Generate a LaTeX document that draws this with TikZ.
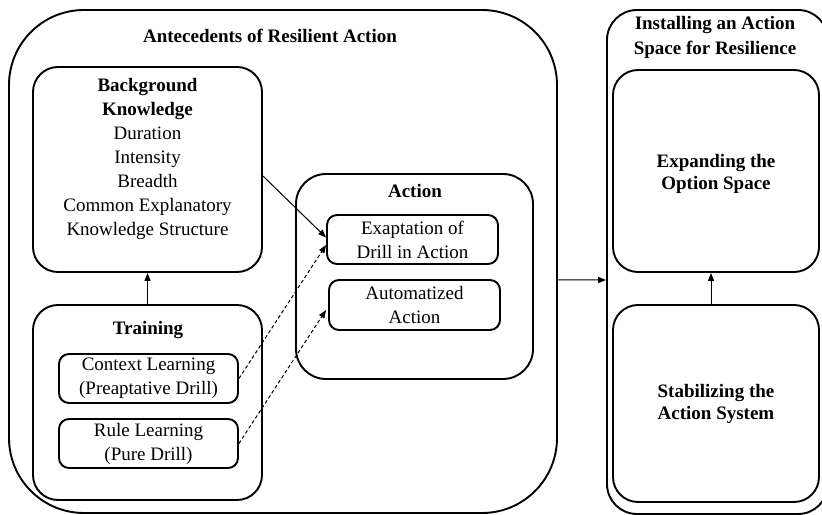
\documentclass[tikz,border=0pt]{standalone}
\usepackage{fontspec}
\setmainfont{Liberation Serif}
\usetikzlibrary{arrows.meta,calc}
\begin{document}
\begin{tikzpicture}[x=1bp,y=-1bp,
  box/.style={draw,line width=1.9bp,inner sep=0pt},
  txt/.style={align=center,inner sep=0pt,font=\fontsize{19bp}{24bp}\selectfont},
  btxt/.style={txt,font=\fontsize{19bp}{24bp}\selectfont\bfseries},
  arr/.style={line width=1bp,-{Triangle[length=8bp,width=6bp]}},
  darr/.style={arr,dash pattern=on 3.5bp off 2.5bp}]
\useasboundingbox (0,0) rectangle (822,515);
\clip (0,0) rectangle (822,515);
% outer containers
\node[box,minimum width=548bp,minimum height=503bp,rounded corners=75bp] (A) at (283,261.5) {};
\node[box,minimum width=221bp,minimum height=504bp,rounded corners=30bp] (IN) at (717.5,262) {};
% antecedents
\node[btxt] (Atitle) at (270,36) {Antecedents of Resilient Action};
\node[box,minimum width=229bp,minimum height=205bp,rounded corners=25bp] (BK) at (147.5,169.5) {};
\node[txt] (BKt) at (147.5,159) {\textbf{Background}\\\textbf{Knowledge}\\Duration\\Intensity\\Breadth\\Common Explanatory\\Knowledge Structure};
\node[box,minimum width=229bp,minimum height=195bp,rounded corners=25bp] (TR) at (147.5,402.5) {};
\node[btxt] (TRt) at (148,330) {Training};
\node[box,txt,minimum width=179bp,minimum height=49bp,rounded corners=10bp] (CL) at (148.5,378.5) {Context Learning\\(Preaptative Drill)};
\node[box,txt,minimum width=179bp,minimum height=49bp,rounded corners=10bp] (RL) at (148.5,443.5) {Rule Learning\\(Pure Drill)};
\node[box,minimum width=237bp,minimum height=205bp,rounded corners=30bp] (AC) at (414.5,276.5) {};
\node[btxt] (ACt) at (415,191) {Action};
\node[box,txt,minimum width=171bp,minimum height=49bp,rounded corners=10bp] (EX) at (412.5,239.5) {Exaptation of\\Drill in Action};
\node[box,txt,minimum width=171bp,minimum height=50bp,rounded corners=10bp] (AU) at (414.5,305) {Automatized\\Action};
% installing
\node[btxt,font=\fontsize{19bp}{25bp}\selectfont\bfseries] (INt) at (715,37.5) {Installing an Action\\Space for Resilience};
\node[box,minimum width=206bp,minimum height=202bp,rounded corners=25bp] (EXP) at (716,171) {};
\node[btxt,font=\fontsize{19bp}{22bp}\selectfont\bfseries] (EXPt) at (716,174) {Expanding the\\Option Space};
\node[box,minimum width=206bp,minimum height=197bp,rounded corners=25bp] (ST) at (716,403.5) {};
\node[btxt,font=\fontsize{19bp}{22bp}\selectfont\bfseries] (STt) at (716,404) {Stabilizing the\\Action System};
% connectors
\draw[arr] (TR.north) -- (BK.south);
\draw[arr] ([xshift=-5bp]ST.north) -- ([xshift=-5bp]EXP.south);
\draw[arr] ($(A.east)+(0,18.5)$) -- ($(IN.west)+(0,18)$);
\draw[arr] ($(BK.east)+(0,6.5)$) -- ($(EX.west)+(0,-2)$);
\draw[darr] (CL.east) -- ($(EX.west)+(0,5.5)$);
\draw[darr] (RL.east) -- ($(AU.west)+(-2,5)$);
\end{tikzpicture}
\end{document}
